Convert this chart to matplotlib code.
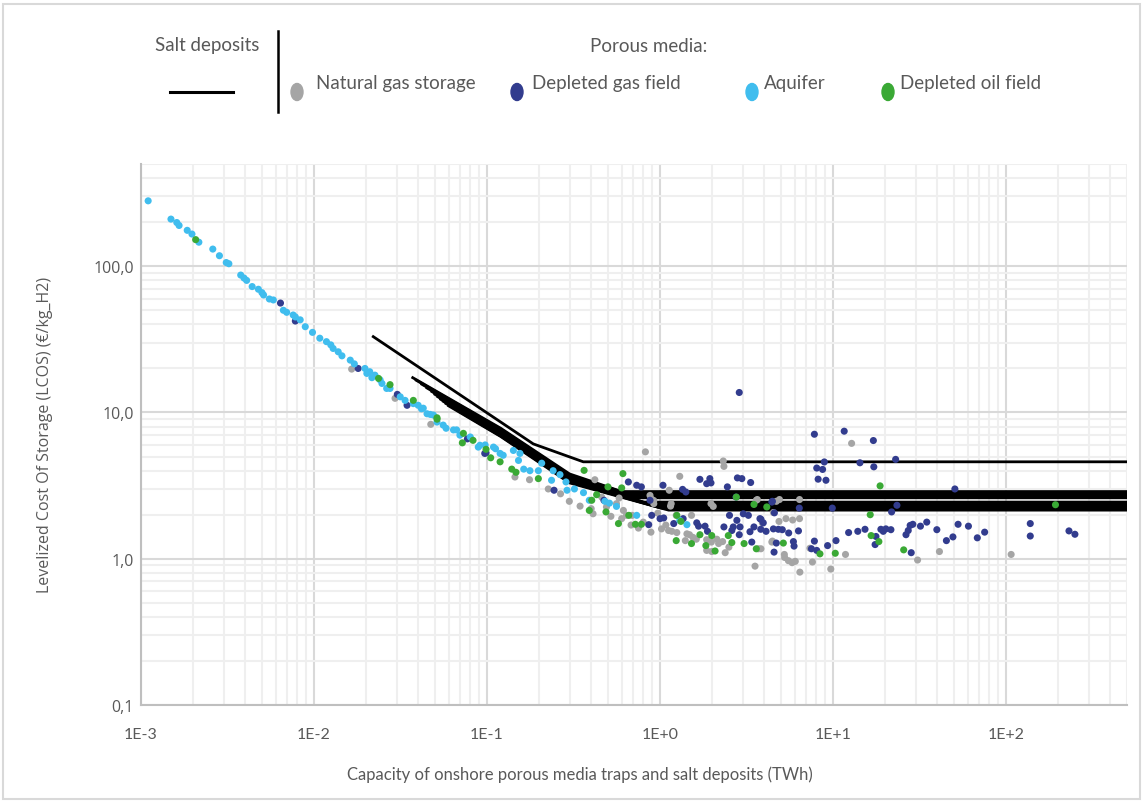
import matplotlib
matplotlib.use("agg")
import matplotlib.pyplot as plt
from matplotlib.patches import Ellipse, Rectangle
from matplotlib.lines import Line2D
from matplotlib.ticker import LogLocator, NullFormatter

plt.rcParams['font.family'] = ['Lato', 'DejaVu Sans']

# capacity (TWh), LCOS (EUR/kg_H2)
aquifer = [
    (0.0011, 280), (0.00149, 210), (0.00161, 199), (0.00166, 190), (0.00185, 176),
    (0.00197, 166), (0.00216, 146), (0.0026, 131), (0.00284, 118), (0.00311, 106),
    (0.00322, 104), (0.00377, 87), (0.00394, 83), (0.00408, 80), (0.00439, 72.6),
    (0.00477, 69.6), (0.0050, 66), (0.00511, 63.6), (0.00552, 59.7), (0.00582, 58.8),
    (0.00665, 50), (0.00695, 48.4), (0.00758, 46.4), (0.0078, 45), (0.00832, 43),
    (0.0089, 38.6), (0.0098, 35.3), (0.0108, 32.2), (0.0118, 30.5), (0.0125, 29.0),
    (0.0129, 27.4), (0.0138, 26.0), (0.0145, 24.4), (0.0162, 22.8), (0.0171, 21.5),
    (0.0197, 20), (0.0202, 18.5), (0.021, 19), (0.0216, 17.3), (0.0225, 18.0),
    (0.0241, 16.7), (0.0247, 15.8), (0.0263, 14.6), (0.0275, 14.6), (0.0315, 12.8),
    (0.0336, 12.1), (0.0375, 11.5), (0.040, 11.2), (0.0418, 10.6), (0.0428, 10.7),
    (0.045, 9.8), (0.047, 9.7), (0.049, 9.6), (0.0514, 8.6), (0.0558, 8.2),
    (0.058, 7.8), (0.064, 7.6), (0.0667, 7.6), (0.0697, 7.0), (0.080, 6.8),
    (0.089, 5.8), (0.091, 5.97), (0.0975, 6.0), (0.109, 5.8), (0.112, 5.65),
    (0.119, 5.25), (0.124, 5.1), (0.142, 5.5), (0.152, 4.7), (0.155, 5.25),
    (0.163, 4.1), (0.177, 4.0), (0.198, 4.0), (0.207, 4.5), (0.236, 3.44),
    (0.241, 4.0), (0.264, 3.76), (0.286, 3.35), (0.29, 2.94), (0.32, 3.0),
    (0.361, 2.83), (0.39, 2.51), (0.48, 2.47), (0.51, 2.4), (0.56, 2.28),
    (0.733, 1.98), (1.3, 1.83), (1.43, 1.71),
]

gas_storage = [
    (0.0165, 19.8), (0.0294, 12.5), (0.0473, 8.3), (0.145, 3.62), (0.176, 3.47),
    (0.226, 3.0), (0.266, 2.78), (0.299, 2.47), (0.345, 2.29), (0.40, 2.2),
    (0.42, 3.47), (0.49, 2.26), (0.41, 2.03), (0.46, 2.64), (0.56, 2.38),
    (0.58, 2.6), (0.614, 2.14), (0.64, 1.98), (0.60, 1.88), (0.69, 1.98),
    (0.8, 1.78), (0.823, 5.38), (0.92, 2.38), (1.13, 2.94), (1.16, 2.38),
    (1.24, 1.98), (1.30, 3.66), (0.875, 2.71), (0.895, 2.55), (0.92, 2.5),
    (1.15, 2.29), (0.886, 1.52), (0.97, 2.05), (1.02, 1.6), (1.12, 1.56),
    (1.17, 1.54), (1.25, 1.51), (1.43, 1.48), (1.48, 1.46), (1.52, 1.98),
    (1.86, 1.35), (1.98, 1.30), (1.40, 1.33), (1.86, 1.14), (1.99, 1.12),
    (2.13, 1.36), (2.18, 1.27), (2.3, 1.31), (2.38, 1.1), (1.97, 2.38),
    (2.03, 2.28), (2.32, 4.66), (2.34, 4.28), (3.54, 0.89), (3.6, 2.51),
    (3.7, 1.17), (4.52, 2.07), (4.7, 2.47), (4.43, 1.30), (3.65, 2.54),
    (4.9, 2.54), (6.4, 2.54), (3.9, 1.76), (5.34, 1.88), (5.84, 1.84),
    (4.87, 1.8), (6.4, 1.88), (4.46, 1.32), (3.83, 1.17), (5.23, 1.07),
    (5.25, 1.02), (5.52, 0.97), (5.8, 0.94), (6.05, 0.96), (6.43, 0.81),
    (7.6, 0.95), (9.7, 0.85), (7.35, 1.18), (11.8, 1.07), (12.8, 6.15),
    (30.8, 0.98), (41.2, 1.12), (107, 1.07), (0.75, 1.62), (1.55, 1.4),
    (1.62, 1.36), (0.52, 1.95), (0.68, 1.7), (2.5, 1.2), (1.08, 1.7),
]

depleted_gas = [
    (0.0064, 56), (0.0078, 42.2), (0.018, 20), (0.0303, 13.3), (0.0345, 11.2),
    (0.077, 6.6), (0.097, 5.25), (0.0987, 5.3), (0.244, 2.94), (0.474, 2.51),
    (0.656, 3.35), (0.733, 3.18), (0.78, 3.1), (0.875, 2.51), (1.0, 1.88),
    (1.04, 3.18), (0.86, 1.71), (0.895, 1.98), (1.05, 1.9), (1.2, 1.74),
    (1.36, 1.88), (1.35, 2.98), (1.41, 2.86), (1.63, 1.76), (1.67, 1.67),
    (1.70, 3.49), (1.82, 1.67), (1.86, 3.26), (1.88, 1.54), (1.94, 3.53),
    (1.97, 3.3), (2.34, 1.65), (2.45, 3.1), (2.52, 1.98), (2.6, 1.56),
    (2.65, 1.65), (2.75, 2.64), (2.78, 1.83), (2.80, 3.57), (2.87, 13.7),
    (2.87, 1.46), (2.90, 1.65), (2.97, 3.53), (3.03, 2.03), (3.24, 1.98),
    (3.34, 3.32), (3.39, 1.30), (3.49, 1.65), (3.78, 1.88), (3.31, 1.53),
    (3.82, 1.59), (3.83, 1.86), (3.95, 1.76), (4.1, 1.54), (4.43, 2.44),
    (4.58, 2.06), (4.46, 2.47), (4.52, 1.6), (4.56, 1.11), (4.7, 1.28),
    (4.83, 1.59), (5.09, 1.58), (5.54, 1.5), (6.31, 1.55), (5.9, 1.31),
    (5.95, 1.22), (6.38, 2.22), (7.8, 7.1), (11.6, 7.45), (17.1, 6.43),
    (8.05, 4.17), (8.7, 4.08), (8.9, 4.59), (8.2, 3.5), (9.1, 3.44),
    (14.3, 4.53), (17.2, 4.25), (23.0, 4.78), (50.6, 3.0), (9.9, 2.22),
    (23.4, 2.32), (21.8, 2.09), (7.8, 1.32), (7.5, 1.17), (8.05, 1.14),
    (9.3, 1.23), (10.4, 1.33), (12.3, 1.51), (13.9, 1.54), (15.3, 1.59),
    (17.7, 1.42), (17.5, 1.25), (18.9, 1.59), (19.5, 1.54), (20.2, 1.6),
    (21.6, 1.58), (26.4, 1.46), (27.2, 1.56), (27.9, 1.69), (28.9, 1.72),
    (32, 1.67), (34.8, 1.78), (39.8, 1.58), (28.3, 1.1), (45.2, 1.33),
    (49.3, 1.41), (52.8, 1.72), (60.6, 1.67), (68.2, 1.39), (75.2, 1.52),
    (138, 1.74), (138, 1.43), (231, 1.55), (250, 1.47),
]

depleted_oil = [
    (0.00207, 152), (0.0236, 17.1), (0.0275, 15.5), (0.0375, 12.1), (0.0514, 9.2),
    (0.0514, 9.0), (0.072, 6.2), (0.073, 7.2), (0.083, 6.45), (0.0987, 5.6),
    (0.105, 4.9), (0.119, 4.6), (0.139, 4.1), (0.147, 3.9), (0.198, 3.53),
    (0.364, 4.02), (0.403, 2.51), (0.43, 2.74), (0.39, 2.14), (0.487, 2.09),
    (0.50, 3.1), (0.575, 1.74), (0.61, 3.82), (0.60, 3.05), (0.66, 1.98),
    (0.72, 1.72), (0.78, 1.72), (1.25, 1.98), (1.32, 1.8), (1.24, 1.33),
    (1.52, 1.27), (1.70, 1.46), (1.84, 1.23), (1.99, 1.44), (2.08, 1.13),
    (2.48, 1.44), (2.6, 1.29), (2.76, 2.64), (3.06, 1.27), (3.49, 2.35),
    (3.6, 1.17), (4.14, 2.26), (5.16, 1.28), (8.4, 1.08), (10.3, 1.09),
    (16.4, 2.0), (18.7, 3.15), (16.6, 1.44), (18.4, 1.31), (25.6, 1.15),
    (193, 2.34),
]

# salt deposit cost curves
salt_x = [
    [0.022, 0.185, 0.36, 500],
    [0.0372, 0.12, 0.3, 0.60, 500],
    [0.039, 0.12, 0.3, 0.63, 500],
    [0.042, 0.12, 0.3, 0.66, 500],
    [0.045, 0.12, 0.3, 0.69, 500],
    [0.048, 0.12, 0.3, 0.72, 500],
    [0.050, 0.12, 0.3, 0.80, 500],
    [0.052, 0.12, 0.3, 0.86, 500],
    [0.054, 0.12, 0.3, 0.92, 500],
    [0.056, 0.12, 0.3, 0.98, 500],
    [0.058, 0.12, 0.3, 1.05, 500],
    [0.060, 0.12, 0.3, 1.12, 500],
]
salt_y = [
    [33, 6.1, 4.6, 4.6],
    [17.3, 7.8, 3.8, 2.88, 2.88],
    [16.6, 7.7, 3.74, 2.81, 2.81],
    [15.6, 7.6, 3.68, 2.74, 2.74],
    [14.7, 7.45, 3.62, 2.67, 2.67],
    [13.9, 7.3, 3.57, 2.61, 2.61],
    [13.3, 7.2, 3.52, 2.44, 2.44],
    [12.8, 7.1, 3.47, 2.38, 2.38],
    [12.3, 7.0, 3.42, 2.31, 2.31],
    [11.9, 6.95, 3.38, 2.25, 2.25],
    [11.5, 6.9, 3.34, 2.2, 2.2],
    [11.1, 6.85, 3.3, 2.15, 2.15],
]

series = [
    ('Natural gas storage', gas_storage, '#A5A5A5'),
    ('Depleted gas field', depleted_gas, '#323C8E'),
    ('Aquifer', aquifer, '#40BDEE'),
    ('Depleted oil field', depleted_oil, '#3AA935'),
]

W, H = 1143, 803
fig = plt.figure(figsize=(W / 100, H / 100), dpi=100)
ax = fig.add_axes([141 / W, 1 - 706 / H, (1127 - 141) / W, (706 - 165) / H])
ax.set_xscale('log')
ax.set_yscale('log')
ax.set_xlim(1e-3, 500)
ax.set_ylim(0.1, 500)

ax.xaxis.set_minor_locator(LogLocator(base=10, subs=range(2, 10), numticks=20))
ax.yaxis.set_minor_locator(LogLocator(base=10, subs=range(2, 10), numticks=20))
ax.xaxis.set_minor_formatter(NullFormatter())
ax.yaxis.set_minor_formatter(NullFormatter())
ax.set_xticks([1e-3, 1e-2, 1e-1, 1, 10, 100],
              ['1E-3', '1E-2', '1E-1', '1E+0', '1E+1', '1E+2'])
ax.set_yticks([0.1, 1, 10, 100], ['0,1', '1,0', '10,0', '100,0'])
for lab in ax.get_yticklabels():
    lab.set_family(['Open Sans', 'DejaVu Sans'])
ax.grid(which='major', color='#D9D9D9', lw=1.5)
ax.grid(which='minor', color='#EFEFEF', lw=1.5)
ax.set_axisbelow(True)
ax.tick_params(which='both', length=0, labelcolor='#595959', labelsize=11.5)
ax.tick_params(axis='x', pad=16)
ax.tick_params(axis='y', pad=5)
for s in ['top', 'right']:
    ax.spines[s].set_visible(False)
for s in ['left', 'bottom']:
    ax.spines[s].set_color('#BFBFBF')
    ax.spines[s].set_linewidth(1.5)

for xs, ys in zip(salt_x, salt_y):
    ax.plot(xs, ys, color='black', lw=2.0, zorder=2)

for name, pts, col in series:
    xs = [p[0] for p in pts]
    ys = [p[1] for p in pts]
    ax.scatter(xs, ys, s=26, color=col, edgecolors='none', zorder=3)

# axis titles
fig.text(580 / W, 1 - 775 / H, 'Capacity of onshore porous media traps and salt deposits (TWh)',
         ha='center', va='center', fontsize=12, color='#595959')
fig.text(45 / W, 1 - 435 / H, 'Levelized Cost Of Storage (LCOS) (€/kg_H2)',
         ha='center', va='center', rotation=90, fontsize=11.5, color='#595959',
         family=['Open Sans', 'DejaVu Sans'])

# legend drawn by hand, like the source
fig.text(207 / W, 1 - 45 / H, 'Salt deposits', ha='center', va='center',
         fontsize=13.5, color='#595959')
fig.add_artist(Line2D([170 / W, 233 / W], [1 - 93 / H, 1 - 93 / H],
                      color='black', lw=2.2, transform=fig.transFigure))
fig.add_artist(Line2D([278 / W, 278 / W], [1 - 32 / H, 1 - 113 / H],
                      color='black', lw=1.8, transform=fig.transFigure))
fig.text(649 / W, 1 - 46 / H, 'Porous media:', ha='center', va='center',
         fontsize=13.5, color='#595959')
leg_pos = [(297, 316), (517, 532), (752, 764), (888, 900)]
for (name, pts, col), (mx, tx) in zip(series, leg_pos):
    fig.add_artist(Ellipse((mx / 100, (H - 93) / 100), 0.12, 0.17, color=col,
                           transform=fig.dpi_scale_trans))
    fig.text(tx / W, 1 - 84 / H, name, ha='left', va='center',
             fontsize=13.5, color='#595959')

fig.add_artist(Rectangle((3 / W, 3 / H), (W - 6) / W, (H - 8) / H, fill=False,
                         edgecolor='#D9D9D9', lw=1.5, transform=fig.transFigure))

fig.savefig('out.png', dpi=100)
plt.close()
